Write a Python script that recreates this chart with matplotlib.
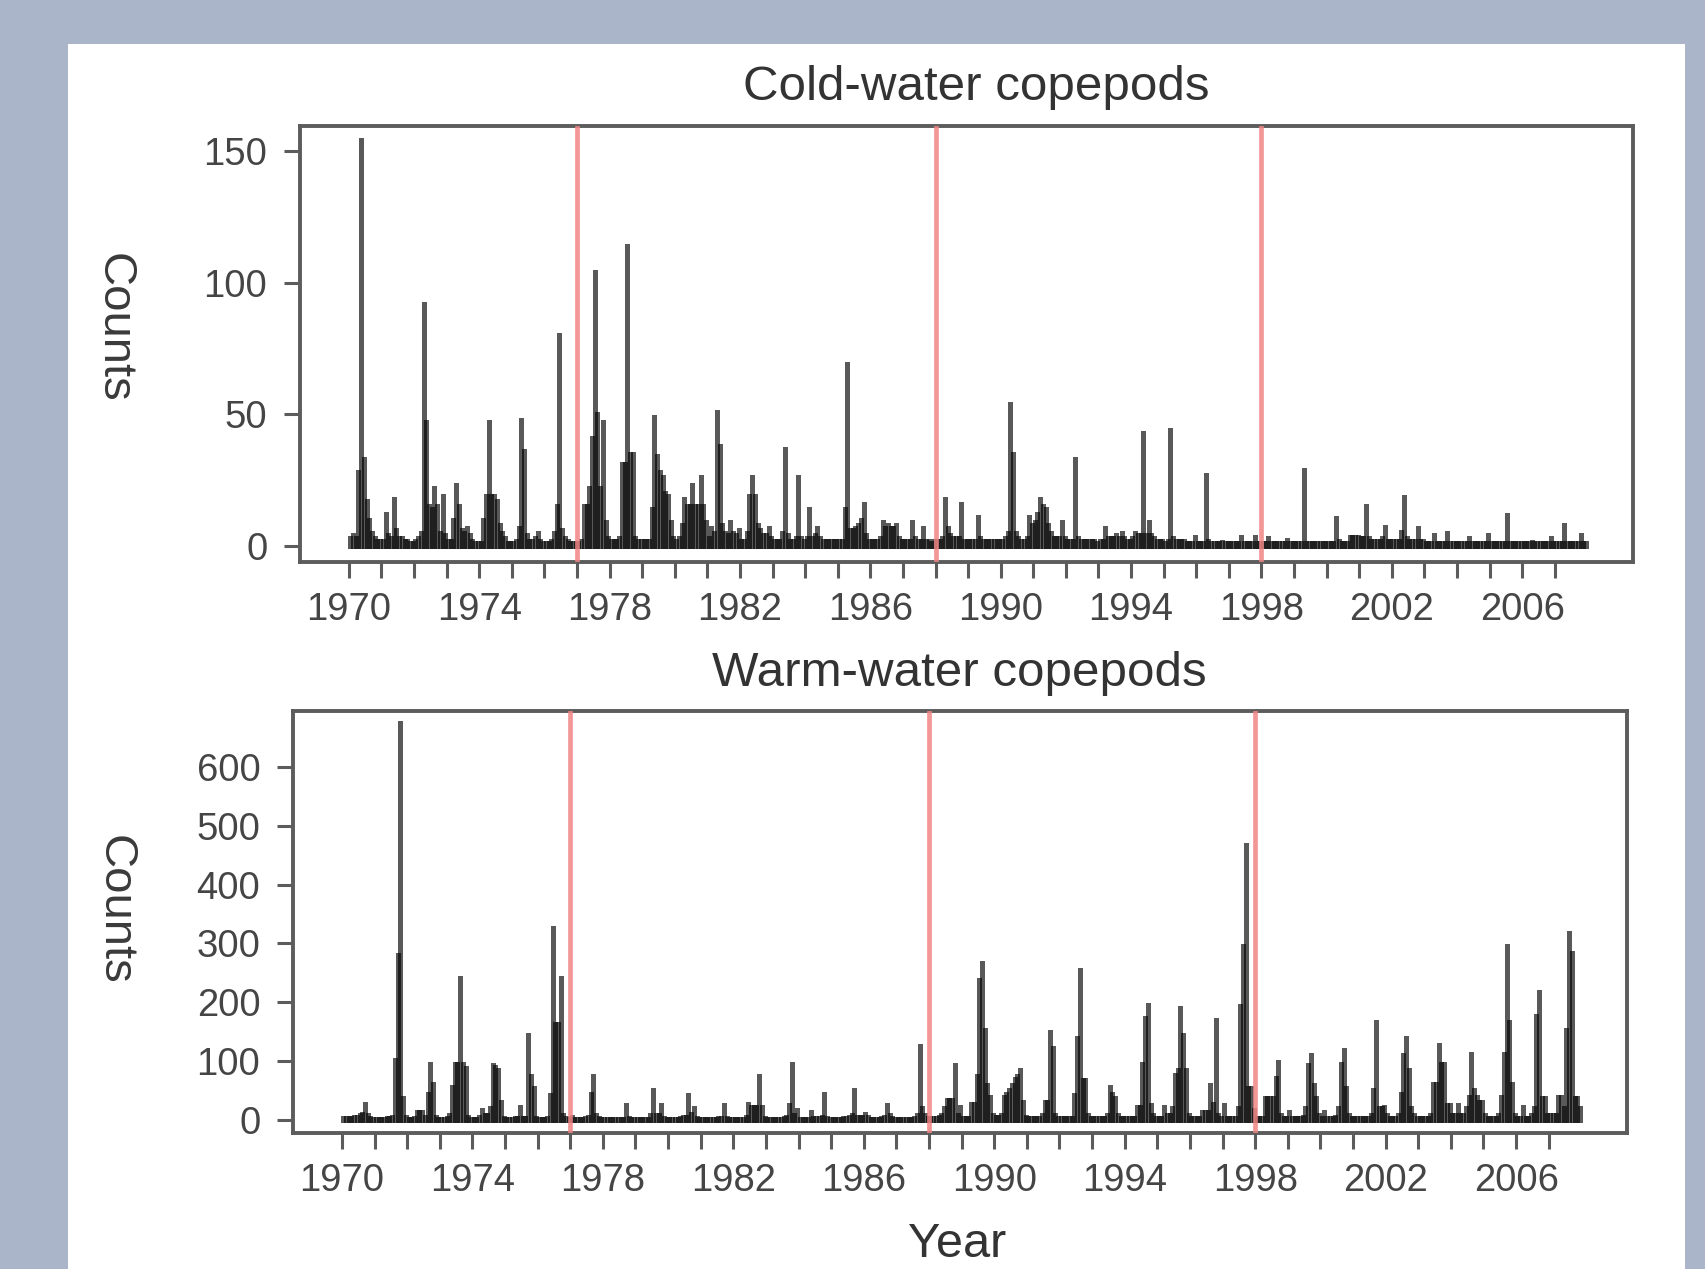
import numpy as np
import matplotlib
matplotlib.use("Agg")
import matplotlib.pyplot as plt
from matplotlib.patches import Rectangle

plt.rcParams['font.family'] = ['Liberation Sans', 'DejaVu Sans']

# ---------------- data (monthly counts, Jan..Dec) ----------------
years = list(range(1970, 2008))

cold_counts = [
    [3, 4, 3, 28, 154, 33, 17, 10, 5, 3, 2, 2],      # 1970
    [2, 12, 4, 3, 18, 6, 3, 3, 2, 2, 1, 1],          # 1971
    [2, 3, 5, 92, 47, 15, 14, 22, 15, 5, 19, 4],     # 1972
    [2, 2, 10, 23, 15, 6, 5, 7, 4, 2, 1, 1],         # 1973
    [1, 10, 19, 47, 19, 19, 17, 8, 5, 3, 1, 1],      # 1974
    [1, 2, 7, 48, 36, 4, 2, 2, 3, 5, 2, 1],          # 1975
    [1, 1, 2, 5, 15, 80, 6, 3, 2, 1, 1, 1],          # 1976
    [1, 2, 15, 15, 22, 41, 104, 50, 22, 47, 9, 3],   # 1977
    [2, 2, 2, 3, 31, 31, 114, 35, 35, 3, 2, 2],      # 1978
    [2, 2, 2, 14, 49, 34, 28, 26, 20, 19, 9, 3],     # 1979
    [2, 3, 8, 18, 15, 15, 23, 15, 15, 26, 15, 9],    # 1980
    [3, 7, 5, 51, 38, 8, 5, 4, 9, 5, 4, 6],          # 1981
    [2, 2, 5, 19, 26, 19, 8, 6, 4, 4, 7, 3],         # 1982
    [2, 2, 2, 5, 37, 4, 2, 2, 3, 26, 3, 2],          # 1983
    [3, 14, 3, 4, 7, 3, 2, 2, 2, 2, 2, 2],           # 1984
    [2, 2, 14, 69, 6, 6, 7, 8, 10, 16, 4, 2],        # 1985
    [2, 2, 2, 3, 9, 7, 8, 7, 7, 8, 3, 2],            # 1986
    [2, 2, 2, 9, 3, 2, 2, 7, 2, 2, 1, 2],            # 1987
    [2, 2, 3, 18, 7, 4, 3, 3, 3, 16, 2, 2],          # 1988
    [2, 2, 2, 11, 3, 2, 2, 2, 2, 2, 2, 2],           # 1989
    [2, 3, 5, 54, 35, 5, 3, 2, 2, 3, 11, 8],         # 1990
    [9, 12, 18, 15, 14, 8, 5, 3, 3, 3, 9, 3],        # 1991
    [2, 2, 2, 33, 3, 2, 2, 2, 2, 2, 2, 1],           # 1992
    [2, 2, 7, 3, 3, 3, 4, 3, 5, 3, 2, 2],            # 1993
    [3, 5, 4, 4, 43, 4, 9, 4, 3, 2, 2, 2],           # 1994
    [1, 2, 44, 3, 2, 2, 2, 2, 1, 1, 1, 3.5],         # 1995
    [1, 1, 1, 27, 2, 1, 1, 1, 1, 1.5, 1, 1],         # 1996
    [1, 1, 1, 1, 3.5, 1, 1, 1, 1, 3.5, 1, 1],        # 1997
    [1, 1, 3, 1, 1, 1, 1, 1, 1, 2.3, 1, 1],          # 1998
    [1, 1, 1, 29, 1, 1, 1, 1, 1, 1, 1, 1],           # 1999
    [1, 1, 1, 10.5, 2, 1, 1, 1, 3.5, 3.5, 3.5, 3.5], # 2000
    [3, 3, 15, 3, 2, 2, 2, 2, 3, 7.3, 2, 2],         # 2001
    [2, 2, 2, 5.4, 18.7, 3, 2, 2, 2, 6.7, 2, 2],     # 2002
    [1, 1, 1, 4.2, 1, 1, 1, 1, 5, 1, 1, 1],          # 2003
    [1, 1, 1, 1, 3, 1, 1, 1, 1, 1, 1, 4.2],          # 2004
    [1, 1, 1, 1, 1, 1, 11.8, 1, 1, 1, 1, 1],         # 2005
    [1, 1, 1, 1.6, 1, 1, 1, 1, 1, 1, 3, 1],          # 2006
    [1, 1, 1, 8, 1, 1, 1, 1, 1, 4.2, 1, 1],          # 2007
]

warm_counts = [
    [3, 3, 3, 3, 5, 5, 8, 10, 28, 8, 3, 2],              # 1970
    [2, 2, 2, 2, 3, 3, 5, 102, 280, 675, 37, 5],         # 1971
    [2, 2, 3, 14, 14, 14, 5, 45, 96, 62, 5, 2],          # 1972
    [2, 2, 3, 8, 57, 96, 96, 241, 96, 88, 5, 2],         # 1973
    [2, 2, 5, 17, 8, 8, 20, 94, 90, 85, 31, 3],          # 1974
    [2, 2, 2, 3, 3, 23, 3, 3, 145, 74, 54, 3],           # 1975
    [2, 2, 2, 3, 42, 326, 164, 164, 241, 8, 3, 2],       # 1976
    [5, 2, 2, 2, 2, 3, 5, 45, 74, 8, 3, 2],              # 1977
    [2, 2, 2, 2, 2, 2, 2, 2, 26, 3, 2, 2],               # 1978
    [2, 2, 2, 2, 2, 8, 51, 8, 8, 26, 3, 2],              # 1979
    [2, 2, 2, 2, 3, 5, 5, 43, 10, 20, 3, 2],             # 1980
    [2, 2, 2, 2, 2, 2, 3, 3, 26, 3, 2, 2],               # 1981
    [2, 2, 2, 2, 5, 28, 23, 23, 23, 74, 23, 3],          # 1982
    [2, 2, 2, 2, 2, 2, 3, 5, 26, 96, 8, 17],             # 1983
    [2, 2, 2, 2, 14, 3, 3, 3, 5, 45, 3, 2],              # 1984
    [2, 2, 2, 2, 3, 3, 5, 8, 51, 5, 5, 5],               # 1985
    [11, 5, 2, 2, 2, 2, 3, 5, 26, 8, 3, 2],              # 1986
    [2, 2, 2, 2, 2, 2, 3, 8, 125, 20, 8, 3],             # 1987
    [3, 3, 3, 5, 8, 20, 34, 34, 34, 94, 8, 23],          # 1988
    [3, 3, 3, 28, 28, 74, 238, 266, 153, 60, 40, 8],     # 1989
    [5, 5, 8, 40, 45, 51, 60, 70, 74, 85, 31, 5],        # 1990
    [3, 3, 3, 3, 3, 8, 31, 31, 150, 122, 8, 3],          # 1991
    [3, 3, 3, 3, 3, 42, 139, 255, 68, 68, 8, 3],         # 1992
    [3, 3, 3, 3, 3, 8, 57, 45, 37, 8, 3, 3],             # 1993
    [3, 3, 3, 3, 23, 23, 96, 173, 196, 25, 8, 3],        # 1994
    [3, 3, 23, 8, 8, 20, 77, 85, 190, 145, 85, 8],       # 1995
    [3, 3, 3, 3, 14, 14, 14, 60, 28, 170, 8, 3],         # 1996
    [26, 3, 3, 3, 3, 20, 193, 295, 468, 54, 54, 17],     # 1997
    [3, 3, 3, 37, 37, 37, 37, 71, 99, 8, 3, 3],          # 1998
    [14, 3, 3, 3, 3, 5, 20, 94, 111, 60, 37, 8],         # 1999
    [3, 14, 3, 3, 3, 5, 20, 96, 119, 54, 8, 3],          # 2000
    [3, 3, 3, 3, 3, 3, 8, 51, 167, 20, 20, 23],          # 2001
    [8, 3, 3, 3, 8, 45, 110, 139, 85, 20, 8, 3],         # 2002
    [3, 3, 3, 3, 8, 62, 62, 128, 96, 96, 26, 26],        # 2003
    [8, 8, 26, 8, 8, 20, 40, 113, 51, 40, 31, 31],       # 2004
    [8, 3, 3, 3, 3, 8, 40, 113, 295, 167, 62, 8],        # 2005
    [3, 3, 23, 3, 3, 8, 20, 176, 218, 37, 37, 8],        # 2006
    [8, 8, 8, 40, 40, 20, 153, 317, 283, 37, 37, 20],    # 2007
]

regime_shifts = [1977, 1988, 1998]
x_ticks = list(range(1970, 2008))
x_ticklabels = [str(y) if (y - 1970) % 4 == 0 else "" for y in x_ticks]
cold_yticks = [0, 50, 100, 150]
warm_yticks = [0, 100, 200, 300, 400, 500, 600]
titles = ["Cold-water copepods", "Warm-water copepods"]

# ---------------- figure ----------------
W, H = 1705, 1269
fig = plt.figure(figsize=(W / 100, H / 100), dpi=100)
fig.patch.set_facecolor("#aab5c9")
fig.patches.append(Rectangle((68 / W, 0), (1685 - 68) / W, (H - 44) / H,
                             transform=fig.transFigure, facecolor="white",
                             edgecolor="none", zorder=-10))

def px_axes(l, t, r, b):
    ax = fig.add_axes([l / W, 1 - b / H, (r - l) / W, (b - t) / H])
    ax.set_zorder(5)
    return ax

ax1 = px_axes(300, 126, 1633, 562)
ax2 = px_axes(293, 711, 1627, 1133)

spine_col = "#5c5c5c"
txt_col = "#454545"

def month_times(yrs):
    return np.array([y + (m + 0.5) / 12 for y in yrs for m in range(12)])

t = month_times(years)

def style(ax, counts, yticks, ylim, lab_xy):
    vals = np.array(counts, dtype=float).ravel()
    lc = ax.vlines(t, 0, vals, colors="black", alpha=0.65, linewidth=3.6,
                   zorder=2)
    lc.set_capstyle("projecting")
    for xs in regime_shifts:
        ax.axvline(xs, color="#f08484", alpha=0.85, linewidth=3.4, zorder=3)
    ax.set_xlim(1968.5, 2009.4)
    ax.set_ylim(*ylim)
    ax.set_xticks(x_ticks)
    ax.set_xticklabels(x_ticklabels)
    ax.set_yticks(yticks)
    ax.set_yticklabels([str(v) for v in yticks])
    for s in ax.spines.values():
        s.set_color(spine_col)
        s.set_linewidth(2.8)
    ax.tick_params(axis="both", direction="out", length=11.5, width=2.2,
                   color=spine_col, labelcolor=txt_col, labelsize=27.5)
    ax.tick_params(axis="y", pad=12)
    ax.tick_params(axis="x", pad=10)
    ax.set_ylabel("Counts", rotation=270, fontsize=34, color="#3a3a3a",
                  va="center", ha="center")
    ax.yaxis.set_label_coords(*lab_xy)

style(ax1, cold_counts, cold_yticks, (-6.1, 159.5), (-0.140, 0.537))
style(ax2, warm_counts, warm_yticks, (-22, 695), (-0.134, 0.528))

fig.text(976 / W, 1 - 87 / H, titles[0], fontsize=35.5, color="#333333",
         ha="center", va="center")
fig.text(959 / W, 1 - 674 / H, titles[1], fontsize=35.5, color="#333333",
         ha="center", va="center")
fig.text(957 / W, 1 - 1267 / H, "Year", fontsize=35, color="#333333",
         ha="center", va="bottom")

fig.savefig("out.png", dpi=100, facecolor=fig.get_facecolor())
